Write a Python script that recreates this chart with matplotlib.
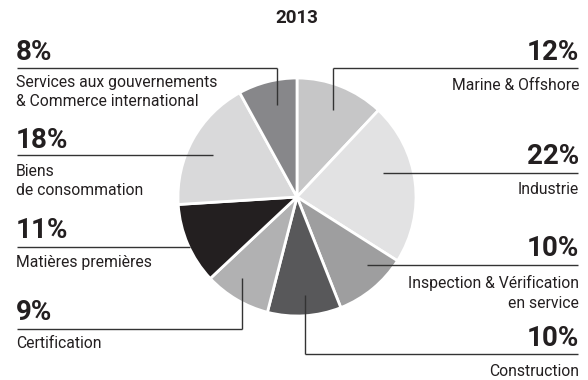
import matplotlib.pyplot as plt

# data
labels = ['Marine & Offshore', 'Industrie', 'Inspection & Vérification\nen service',
          'Construction', 'Certification', 'Matières premières',
          'Biens\nde consommation', 'Services aux gouvernements\n& Commerce international']
shares = [12, 22, 10, 10, 9, 11, 18, 8]
colors = ['#c6c6c7', '#e2e2e3', '#9e9e9f', '#58585a', '#b1b1b2', '#231f20', '#d9d9da', '#87878a']

W, H = 588, 380
def Y(y):
    return H - y

fig = plt.figure(figsize=(5.88, 3.8), dpi=100)
ax = fig.add_axes([0, 0, 1, 1])

ax.pie(shares, colors=colors, startangle=90, counterclock=False,
       center=(297, Y(197)), radius=119, frame=True,
       wedgeprops=dict(edgecolor='white', linewidth=2))
ax.set_xlim(0, W)
ax.set_ylim(0, H)
ax.set_aspect('equal')
ax.axis('off')

font = 'Roboto'
ax.text(297, Y(18), '2013', ha='center', va='center', fontsize=13.5,
        fontweight='bold', family=font, color='#231f20')

lc = '#333333'
callouts = [
    # index, pct_y, line_y, x0, x1, vert_x, vert_y, text_y, side
    (0, 52, 68, 333, 578, 333, 110, 85, 'r'),
    (1, 157, 173, 383, 578, None, None, 190, 'r'),
    (2, 248, 265, 367, 578, None, None, 293, 'r'),
    (3, 339, 354, 305, 578, 305, 295, 372, 'r'),
    (4, 312, 329, 17, 242, 242, 278, 344, 'l'),
    (5, 230, 247, 17, 190, None, None, 263, 'l'),
    (6, 140, 155, 17, 213, None, None, 181, 'l'),
    (7, 52, 68, 17, 277, 277, 105, 92, 'l'),
]

for i, py, ly, x0, x1, vx, vy, ty, side in callouts:
    ax.plot([x0, x1], [Y(ly), Y(ly)], color=lc, lw=1, solid_capstyle='butt')
    if vx is not None:
        ax.plot([vx, vx], [Y(ly), Y(vy)], color=lc, lw=1, solid_capstyle='butt')
    if side == 'r':
        tx, ha = 579, 'right'
    else:
        tx, ha = 16, 'left'
    ax.text(tx, Y(py), f'{shares[i]}%', ha=ha, va='center', fontsize=20,
            fontweight='bold', family=font, color='#231f20')
    ax.text(tx, Y(ty), labels[i], ha=ha, va='center', fontsize=11.3,
            family=font, color='#231f20', linespacing=1.35, multialignment=ha)

fig.savefig('out.png', dpi=100)
